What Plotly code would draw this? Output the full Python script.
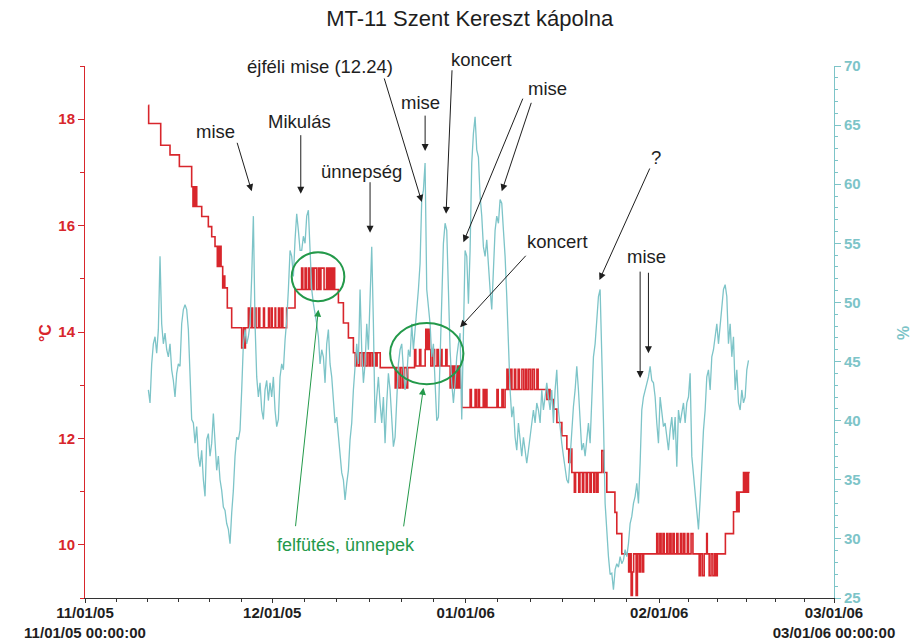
import pandas as pd
import plotly.graph_objects as go

# ---------------------------------------------------------------
# Logger MT-11, Szent Kereszt kápolna: temperature (°C) and RH (%)
# ---------------------------------------------------------------

# Temperature: step changes (days after 2005-11-01, °C)
temp_day = [
    10.15, 10.2, 12.13, 13.62, 15.12, 17.09, 17.3, 17.45, 17.6, 17.75, 17.9,
    18.7, 19.76, 20.3, 20.83, 21.2, 21.35, 21.5, 21.7, 21.8, 22.06, 22.3, 22.4,
    22.8, 23.5, 25.1, 25.4, 25.5, 25.7, 26.17, 26.35, 26.7, 26.85, 27.24, 27.4,
    27.8, 28.0, 28.6, 28.75, 29.4, 29.6, 29.9, 30.0, 30.45, 30.55, 31.0, 31.2,
    31.5, 31.7, 32.3, 33.65, 34.7, 34.9, 35.26, 35.45, 35.8, 36.0, 36.3, 36.5,
    36.7, 37.1, 37.4, 37.6, 37.8, 38.3, 38.7, 38.9, 39.1, 39.3, 39.5, 39.6,
    39.7, 39.8, 39.9, 40.0, 40.6, 41.4, 42.2, 43.0, 43.3, 43.5, 43.8, 44.0,
    44.4, 44.6, 44.9, 45.2, 45.5, 45.7, 46.0, 46.2, 46.6, 46.8, 47.3, 49.7,
    49.9, 50.3, 50.6, 50.9, 51.1, 51.5, 51.7, 52.8, 53.0, 53.6, 53.8, 54.5,
    54.6, 54.8, 55.0, 55.2, 55.4, 55.7, 56.0, 56.4, 56.6, 57.0, 57.2, 57.8,
    58.0, 58.5, 58.7, 58.9, 59.1, 59.3, 59.5, 59.7, 59.9, 60.1, 60.36, 61.7,
    61.9, 62.5, 62.7, 63.0, 63.2, 63.8, 63.9, 64.0, 64.1, 64.2, 64.4, 66.0,
    66.2, 66.8, 67.0, 67.3, 67.6, 67.8, 68.2, 68.4, 68.8, 69.0, 69.4, 69.6,
    70.0, 70.3, 70.6, 70.8, 71.1, 71.4, 71.7, 72.0, 72.4, 72.6, 74.0, 74.3,
    74.5, 75.05, 75.6, 76.4, 77.2, 77.5, 77.7, 78.0, 78.4, 78.6, 79.1, 79.3,
    79.7, 79.9, 80.3, 80.5, 80.9, 81.1, 81.5, 81.7, 82.0, 82.2, 82.8, 83.1,
    83.6, 84.9, 85.2, 86.0, 87.1, 87.3, 87.5, 87.7, 87.9, 88.3, 88.5, 88.8,
    89.0, 89.3, 89.5, 91.6, 91.8, 92.1, 92.3, 92.6, 92.8, 93.2, 93.4, 93.7,
    93.9, 94.2, 94.4, 94.8, 95.0, 95.4, 95.6, 95.9, 96.1, 96.5, 96.7, 97.1,
    97.4, 98.4, 98.6, 98.9, 99.2, 99.6, 99.7, 100.0, 100.3, 100.6, 100.9,
    101.1, 101.3, 102.6, 103.9, 104.4, 104.6, 104.8, 105.5, 105.7, 105.9,
    106.1, 106.3, 106.5,
]
temp_c = [
    18.26, 17.92, 17.51, 17.33, 17.11, 16.73, 16.36, 16.73, 16.36, 16.73, 16.36,
    16.17, 15.98, 15.79, 15.61, 15.23, 15.61, 15.23, 15.61, 15.23, 14.83, 15.05, 14.83,
    14.45, 14.08, 13.70, 14.08, 13.70, 14.08, 14.45, 14.08, 14.45, 14.08, 14.45, 14.08,
    14.45, 14.08, 14.45, 14.08, 14.45, 14.08, 14.45, 14.08, 14.45, 14.08, 14.45, 14.08,
    14.45, 14.08, 14.45, 14.80, 15.2, 14.8, 15.2, 14.8, 15.2, 14.8, 15.2, 14.8,
    15.2, 14.8, 15.2, 14.8, 15.2, 14.8, 15.2, 14.8, 15.2, 14.8, 15.2, 14.8,
    15.2, 14.8, 15.2, 14.8, 14.55, 14.17, 13.89, 13.61, 13.36, 13.61, 13.36, 13.61,
    13.36, 13.61, 13.36, 13.61, 13.36, 13.61, 13.36, 13.61, 13.36, 13.61, 13.33, 12.95,
    13.33, 12.95, 13.33, 12.95, 13.33, 12.95, 13.33, 13.67, 13.36, 13.67, 13.36, 13.67,
    14.05, 13.67, 14.05, 13.67, 13.36, 13.67, 13.36, 13.67, 13.36, 13.67, 13.36, 13.67,
    13.36, 12.95, 13.36, 12.95, 13.36, 12.95, 13.36, 12.95, 13.36, 12.95, 12.58, 12.92,
    12.58, 12.92, 12.58, 12.92, 12.58, 12.92, 12.58, 12.92, 12.58, 12.92, 12.58, 12.92,
    12.58, 12.92, 12.58, 12.92, 13.30, 12.92, 13.30, 12.92, 13.30, 12.92, 13.30, 12.92,
    13.30, 12.92, 13.30, 12.92, 13.30, 12.92, 13.30, 12.92, 13.30, 12.92, 12.73, 12.92,
    12.73, 12.55, 12.30, 12.05, 11.80, 11.55, 11.80, 11.36, 10.99, 11.36, 10.99, 11.36,
    10.99, 11.36, 10.99, 11.36, 10.99, 11.36, 10.99, 11.36, 10.99, 11.36, 11.77, 11.36,
    10.99, 10.61, 10.21, 9.83, 9.49, 9.83, 9.05, 9.49, 9.83, 9.05, 9.83, 9.49,
    9.83, 9.49, 9.83, 10.21, 9.83, 10.21, 9.83, 10.21, 9.83, 10.21, 9.83, 10.21,
    9.83, 10.21, 9.83, 10.21, 9.83, 10.21, 9.83, 10.21, 9.83, 10.21, 9.83, 10.21,
    9.83, 9.42, 9.83, 9.42, 9.83, 10.21, 9.83, 9.42, 9.83, 9.42, 9.83,
    9.42, 9.83, 10.21, 10.62, 10.99, 10.62, 10.99, 11.36, 10.99, 11.36,
    10.99, 11.36, 11.36,
]

# Relative humidity (%), evenly spaced logger readings
rh_first = "2005-11-11 03:35"
rh_last = "2006-02-15 07:10"
rh = [
    42.6, 41.5, 44.8, 46.5, 47.1, 45.7, 47.7, 53.9, 48.2, 46.5,
    47.4, 46.0, 45.4, 46.5, 44.3, 43.4, 42.0, 44.0, 44.8, 44.6,
    48.2, 49.4, 49.8, 49.4, 47.7, 43.4, 40.1, 39.8, 38.1, 39.5,
    37.0, 36.1, 37.5, 35.0, 33.6, 38.4, 38.9, 37.0, 38.1, 40.6,
    38.4, 35.8, 37.0, 35.0, 34.1, 32.7, 32.4, 31.3, 30.8, 29.6,
    32.2, 34.1, 37.0, 38.6, 38.4, 39.2, 42.6, 46.5, 47.7, 46.5,
    47.1, 48.2, 52.2, 57.3, 48.2, 43.7, 42.0, 43.2, 40.9, 40.1,
    42.6, 43.4, 41.7, 43.2, 42.0, 43.7, 40.9, 39.5, 40.1, 43.7,
    44.8, 44.3, 46.8, 48.5, 51.1, 54.4, 53.9, 52.2, 55.3, 57.5,
    56.1, 54.4,
    54.4, 55.6, 55.0, 57.3, 57.8, 54.7, 51.1, 49.9, 49.1, 48.2,
    47.1, 44.8, 46.0, 45.4, 43.2, 46.5, 47.7, 44.8, 43.7, 41.7,
    39.8, 40.3, 38.6, 37.0, 35.6, 35.0, 33.3, 34.7, 35.8, 38.4,
    39.8, 42.6, 44.3, 46.5, 44.8, 51.1, 46.0, 43.2, 44.8, 48.2,
    46.0, 51.1, 54.7, 48.2, 39.8, 42.0, 43.7, 41.5, 39.8, 42.0,
    38.1, 41.5, 44.0, 42.6, 39.8, 37.8, 38.6, 42.6, 44.8, 46.0,
    46.5, 44.3, 42.6, 43.7, 46.0, 45.4, 48.2, 46.0, 47.7, 48.8,
    51.1, 53.3, 58.7, 59.5, 61.8, 51.1, 49.9, 48.2, 45.4, 46.5,
    43.2, 40.0, 40.3, 45.4, 51.1, 55.0, 56.7, 56.1, 51.1, 46.0,
    43.2,
    41.5, 43.2, 45.4, 46.5, 47.4, 40.1, 48.2, 54.4, 53.9, 49.9,
    54.4, 61.8, 64.3, 65.7, 62.9, 62.3, 59.0, 57.3, 54.7, 53.9,
    55.3, 52.7, 51.1, 49.4, 52.2, 56.1, 57.3, 56.7, 58.7, 58.4,
    56.1, 53.9, 50.5, 46.0, 42.6, 40.3, 41.2, 38.6, 37.5, 39.8,
    38.1, 37.0, 38.6, 37.5, 36.4, 37.5, 38.6, 39.8, 40.9, 39.8,
    41.5, 40.9, 39.8, 42.6, 40.9, 42.0, 43.2, 42.0, 40.9, 42.6,
    39.8, 42.6, 44.3, 40.9, 39.2, 38.1, 37.0, 35.8, 35.0, 34.7,
    37.0, 39.8, 41.2, 42.6, 44.6, 42.6, 39.8, 37.5, 38.1, 37.0,
    38.4, 39.8, 38.1, 42.6, 45.4, 46.5, 48.2, 50.5, 51.1, 46.5,
    40.0, 33.0, 30.5, 28.5, 27.0,
    27.1, 25.7, 27.4, 27.9, 27.6, 28.5, 27.9, 28.2, 29.1, 28.5,
    29.6, 31.3, 31.9, 33.0, 33.6, 34.7, 33.0, 36.4, 40.9, 42.0,
    42.6, 43.2, 43.7, 44.6, 43.4, 43.2, 42.0, 39.8, 38.1, 42.0,
    40.9, 39.5, 39.8, 38.4, 37.5, 39.2, 40.3, 38.4, 40.3, 36.1,
    40.9, 39.8, 40.6, 41.5, 39.8, 41.5, 42.0, 44.0, 37.0, 35.6,
    34.1, 32.4, 30.8, 33.3, 37.0, 39.2, 40.9, 43.7, 44.3, 42.6,
    45.4, 46.0, 47.1, 48.2, 46.5, 48.2, 49.9, 51.1, 51.5, 50.5,
    46.5, 48.2, 45.4, 47.1, 42.6, 44.3, 41.5, 40.9, 42.6, 41.5,
    42.0, 44.3, 45.1,
]

# Axis ticks
month_ticks = ["2005-11-01", "2005-12-01", "2006-01-01", "2006-02-01", "2006-03-01"]
month_labels = [
    "11/01/05<br>11/01/05 00:00:00",
    "12/01/05",
    "01/01/06",
    "02/01/06",
    "03/01/06<br>03/01/06 00:00:00",
]
temp_ticks = [10, 12, 14, 16, 18]

# Event notes: (label, arrow head day, arrow head RH %, tail dx, tail dy)
events = [
    ("mise", 26.71, 59.4, -15, -50),
    ("Mikulás", 34.57, 59.2, 0, -60),
    ("ünnepség", 45.67, 55.9, 0, -52),
    ("éjféli mise (12.24)", 53.96, 58.5, -38, -125),
    ("mise", 54.49, 62.8, 0, -37),
    ("koncert", 57.85, 57.5, 6, -145),
    ("mise", 60.63, 55.1, 60, -145),
    ("mise", 66.77, 59.4, 30, -90),
    ("koncert", 60.10, 47.9, 67, -73),
    ("?", 82.42, 51.9, 51, -113),
    ("mise", 88.94, 43.6, 0, -108),
    ("mise", 90.27, 45.7, 0, -82),
]
# Label centres (paper fraction of the plot area)
event_labels = [
    ("mise", 0.1736, 0.8778),
    ("Mikulás", 0.287, 0.8966),
    ("ünnepség", 0.3698, 0.8026),
    ("éjféli mise (12.24)", 0.3137, 1.0),
    ("mise", 0.4473, 0.9305),
    ("koncert", 0.530, 1.0113),
    ("mise", 0.617, 0.9568),
    ("koncert", 0.6302, 0.6692),
    ("?", 0.7623, 0.8271),
    ("mise", 0.7503, 0.641),
]

RED = "#D8262C"
TEAL = "#7DC4C8"
GREEN = "#23994A"
INK = "#1E1E1E"

base = pd.Timestamp("2005-11-01")


def at_day(d):
    return base + pd.Timedelta(days=d)


temp_time = [at_day(d) for d in temp_day]
rh_time = pd.date_range(rh_first, rh_last, periods=len(rh))

fig = go.Figure()
fig.add_trace(go.Scatter(
    x=temp_time, y=temp_c, mode="lines", yaxis="y",
    line=dict(color=RED, width=1.6, shape="hv"), name="°C",
))
fig.add_trace(go.Scatter(
    x=rh_time, y=rh, mode="lines", yaxis="y2",
    line=dict(color=TEAL, width=1.3), name="%",
))

# Minor ticks: each month split in six
minor_x = []
for a, b in zip(month_ticks[:-1], month_ticks[1:]):
    ta, tb = pd.Timestamp(a), pd.Timestamp(b)
    for k in range(1, 6):
        minor_x.append(ta + (tb - ta) * k / 6)

fig.update_layout(
    width=912, height=644,
    margin=dict(l=85, r=78, t=66, b=46),
    paper_bgcolor="white", plot_bgcolor="white",
    showlegend=False,
    font=dict(family="Arial", color=INK),
    title=dict(text="MT-11 Szent Kereszt kápolna", x=0.515, xanchor="center",
               y=0.972, yanchor="middle", font=dict(size=22, color=INK)),
    xaxis=dict(
        type="date", range=["2005-11-01", "2006-03-01"], automargin=False,
        showline=True, linecolor="#333", linewidth=1,
        ticks="outside", ticklen=4, tickcolor="#333",
        ticklabelstandoff=-3,
        tickmode="array", tickvals=month_ticks, ticktext=month_labels,
        tickfont=dict(size=15, color=INK, weight="bold"),
        minor=dict(tickmode="array", tickvals=minor_x, ticks="outside",
                   ticklen=3, tickcolor="#333"),
        showgrid=False, zeroline=False,
    ),
    yaxis=dict(
        range=[9, 19], automargin=False,
        showline=True, linecolor=RED, linewidth=1,
        ticks="outside", ticklen=6, tickcolor=RED,
        tickmode="array", tickvals=temp_ticks,
        tickfont=dict(size=15, color=RED, weight="bold"),
        minor=dict(dtick=1, ticks="outside", ticklen=4, tickcolor=RED),
        showgrid=False, zeroline=False,
    ),
    yaxis2=dict(
        range=[25, 70], overlaying="y", side="right", anchor="x", automargin=False,
        showline=True, linecolor=TEAL, linewidth=1,
        ticks="outside", ticklen=6, tickcolor=TEAL, dtick=5,
        tickfont=dict(size=15, color=TEAL, weight="bold"),
        minor=dict(dtick=1, ticks="outside", ticklen=3, tickcolor=TEAL),
        showgrid=False, zeroline=False,
    ),
)

annotations = []
# axis titles
annotations.append(dict(text="°C", xref="paper", yref="paper", x=-0.0534, y=0.498,
                        xanchor="center", yanchor="middle",
                        textangle=-90, showarrow=False,
                        font=dict(size=16, color=RED, weight="bold")))
annotations.append(dict(text="%", xref="paper", yref="paper", x=1.092, y=0.498,
                        xanchor="center", yanchor="middle",
                        textangle=-90, showarrow=False,
                        font=dict(size=16, color=TEAL, weight="bold")))

for label, xp, yp in event_labels:
    annotations.append(dict(text=label, xref="paper", yref="paper", x=xp, y=yp,
                            xanchor="center", yanchor="middle",
                            showarrow=False, font=dict(size=18.5, color=INK)))

for label, d, v, ax, ay in events:
    annotations.append(dict(text="", x=at_day(d), y=v, xref="x", yref="y2",
                            showarrow=True, ax=ax, ay=ay, arrowhead=2,
                            arrowsize=1.4, arrowwidth=1, arrowcolor=INK,
                            standoff=0))

# heating / holiday notes
annotations.append(dict(text="felfütés, ünnepek", xref="paper", yref="paper",
                        x=0.3485, y=0.0996, xanchor="center", yanchor="middle",
                        showarrow=False, font=dict(size=18, color=GREEN)))
for d, t, ax, ay in [(37.39, 14.42, -23, 218), (54.22, 12.95, -20, 140)]:
    annotations.append(dict(text="", x=at_day(d), y=t, xref="x", yref="y",
                            showarrow=True, ax=ax, ay=ay, arrowhead=2,
                            arrowsize=1.4, arrowwidth=1, arrowcolor=GREEN,
                            standoff=0))

fig.update_layout(annotations=annotations)

# circled heating periods
for d0, d1, t0, t1 in [(33.12, 41.55, 14.58, 15.50), (48.88, 60.63, 13.02, 14.17)]:
    fig.add_shape(type="circle", xref="x", yref="y",
                  x0=at_day(d0), x1=at_day(d1), y0=t0, y1=t1,
                  line=dict(color=GREEN, width=2))

fig.write_html("out.html")
